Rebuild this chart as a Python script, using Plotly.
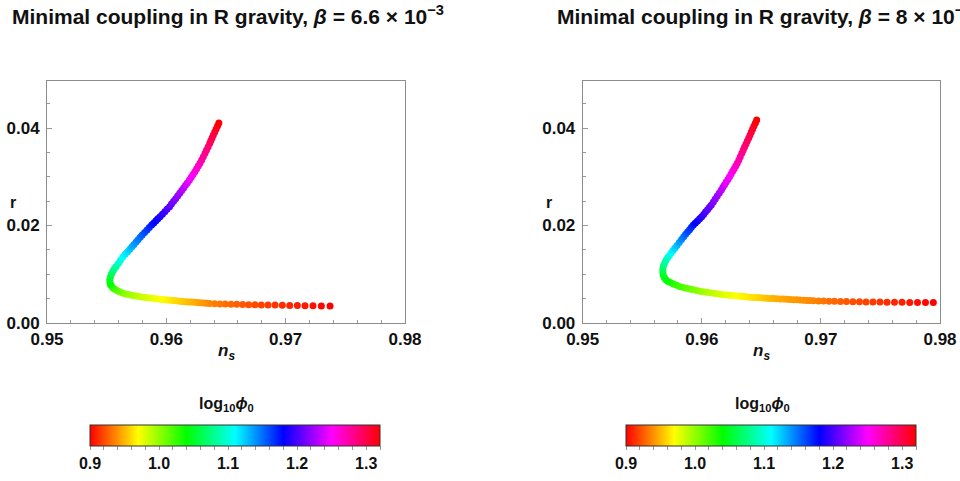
import plotly.graph_objects as go

# ---------------- data ----------------
# Left panel: beta = 6.6e-3
L_phi = [0.900, 0.902, 0.904, 0.906, 0.908, 0.910, 0.912, 0.914, 0.916, 0.918,
         0.920, 0.922, 0.924, 0.926, 0.928, 0.930, 0.932, 0.934, 0.936,
         0.938, 0.940, 0.942, 0.944, 0.946, 0.948, 0.950, 0.952, 0.954, 0.956,
         0.958, 0.960, 0.962, 0.965, 0.967, 0.969, 0.971, 0.973, 0.975, 0.977,
         0.979, 0.982, 0.984, 0.987, 0.990, 0.993, 0.996, 0.999, 1.003, 1.008,
         1.013, 1.018, 1.023, 1.028, 1.034, 1.040,
         1.047, 1.055, 1.063, 1.071, 1.078, 1.085, 1.093, 1.101, 1.109, 1.115,
         1.120, 1.126, 1.131, 1.136, 1.141, 1.145, 1.150, 1.154, 1.159, 1.164,
         1.168, 1.173, 1.177, 1.181, 1.184, 1.188, 1.192, 1.196, 1.200, 1.204,
         1.208, 1.212, 1.216, 1.220, 1.224, 1.228, 1.232, 1.236, 1.240, 1.244,
         1.248, 1.252, 1.256, 1.260, 1.264, 1.268, 1.272, 1.276, 1.280, 1.284,
         1.288, 1.292, 1.295, 1.298, 1.301, 1.305, 1.309, 1.314, 1.320]
L_ns = [0.97372, 0.97299, 0.97229, 0.97162, 0.97098, 0.97034, 0.96972, 0.96911, 0.96852, 0.96796,
        0.96743, 0.96690, 0.96640, 0.96590, 0.96542, 0.96494, 0.96450, 0.96405, 0.96363,
        0.96337, 0.96312, 0.96286, 0.96261, 0.96236, 0.96211, 0.96186, 0.96161, 0.96136, 0.96110,
        0.96085, 0.96060, 0.96035, 0.96010, 0.95985, 0.95960, 0.95934, 0.95909, 0.95884, 0.95859,
        0.95834, 0.95809, 0.95784, 0.95758, 0.95733, 0.95708, 0.95683, 0.95658, 0.95633, 0.95608,
        0.95587, 0.95570, 0.95553, 0.95541, 0.95532, 0.95528,
        0.95526, 0.95532, 0.95541, 0.95553, 0.95566, 0.95580, 0.95598, 0.95616, 0.95635, 0.95655,
        0.95675, 0.95694, 0.95712, 0.95729, 0.95747, 0.95763, 0.95781, 0.95798, 0.95818, 0.95838,
        0.95857, 0.95877, 0.95895, 0.95913, 0.95929, 0.95947, 0.95967, 0.95987, 0.96006, 0.96027,
        0.96043, 0.96061, 0.96078, 0.96095, 0.96112, 0.96129, 0.96145, 0.96161, 0.96177, 0.96194,
        0.96209, 0.96224, 0.96239, 0.96253, 0.96268, 0.96282, 0.96296, 0.96310, 0.96324, 0.96337,
        0.96351, 0.96364, 0.96374, 0.96384, 0.96394, 0.96406, 0.96417, 0.96429, 0.96440]
L_r = [0.00349, 0.00351, 0.00353, 0.00355, 0.00359, 0.00361, 0.00363, 0.00367, 0.00369, 0.00371,
       0.00373, 0.00375, 0.00380, 0.00384, 0.00386, 0.00390, 0.00392, 0.00396, 0.00400,
       0.00407, 0.00412, 0.00416, 0.00420, 0.00424, 0.00429, 0.00433, 0.00437, 0.00442, 0.00448,
       0.00454, 0.00460, 0.00465, 0.00471, 0.00477, 0.00483, 0.00490, 0.00499, 0.00507, 0.00515,
       0.00523, 0.00529, 0.00537, 0.00548, 0.00558, 0.00568, 0.00583, 0.00597, 0.00613, 0.00642,
       0.00669, 0.00693, 0.00718, 0.00759, 0.00786, 0.00821,
       0.00882, 0.00948, 0.01009, 0.01067, 0.01116, 0.01161, 0.01223, 0.01288, 0.01354, 0.01411,
       0.01463, 0.01514, 0.01565, 0.01612, 0.01662, 0.01709, 0.01758, 0.01805, 0.01856, 0.01908,
       0.01959, 0.02010, 0.02053, 0.02096, 0.02138, 0.02181, 0.02232, 0.02283, 0.02334, 0.02386,
       0.02441, 0.02496, 0.02550, 0.02605, 0.02661, 0.02716, 0.02769, 0.02825, 0.02878, 0.02933,
       0.02991, 0.03048, 0.03104, 0.03161, 0.03219, 0.03276, 0.03344, 0.03411, 0.03481, 0.03549,
       0.03616, 0.03686, 0.03744, 0.03799, 0.03856, 0.03918, 0.03980, 0.04041, 0.04103]

# Right panel: beta = 8e-3
R_phi = [0.900, 0.902, 0.904, 0.906, 0.908, 0.910, 0.912, 0.914, 0.916, 0.918,
         0.920, 0.922, 0.924, 0.926, 0.928, 0.930, 0.932, 0.934, 0.936,
         0.937, 0.938, 0.939, 0.940, 0.941, 0.942, 0.943, 0.944, 0.945, 0.946,
         0.947, 0.948, 0.950, 0.952, 0.954, 0.956, 0.958, 0.960, 0.962, 0.964,
         0.966, 0.967, 0.969, 0.971, 0.974, 0.976, 0.978, 0.981, 0.983, 0.985,
         0.988, 0.990, 0.994, 0.998, 1.001, 1.005, 1.009, 1.012, 1.016, 1.020,
         1.024, 1.028, 1.032, 1.036, 1.040, 1.044, 1.048,
         1.054, 1.062, 1.072, 1.080, 1.087, 1.094, 1.101, 1.108, 1.115, 1.121,
         1.128, 1.135, 1.142, 1.148, 1.154, 1.159, 1.164, 1.169, 1.174, 1.179,
         1.183, 1.187, 1.191, 1.195, 1.199, 1.203, 1.207, 1.211, 1.215, 1.219,
         1.223, 1.227, 1.231, 1.235, 1.239, 1.242, 1.245, 1.248, 1.251, 1.255,
         1.259, 1.263, 1.267, 1.271, 1.275, 1.279, 1.283, 1.287, 1.290, 1.293,
         1.296, 1.299, 1.303, 1.307, 1.311, 1.315, 1.320]
R_ns = [0.97944, 0.97878, 0.97811, 0.97746, 0.97681, 0.97618, 0.97555, 0.97496, 0.97437, 0.97379,
        0.97324, 0.97269, 0.97215, 0.97164, 0.97114, 0.97068, 0.97022, 0.96980, 0.96938,
        0.96908, 0.96881, 0.96853, 0.96825, 0.96797, 0.96769, 0.96741, 0.96713, 0.96685, 0.96657,
        0.96629, 0.96601, 0.96573, 0.96545, 0.96517, 0.96489, 0.96461, 0.96433, 0.96405, 0.96377,
        0.96349, 0.96321, 0.96293, 0.96265, 0.96237, 0.96209, 0.96181, 0.96153, 0.96125, 0.96097,
        0.96069, 0.96041, 0.96013, 0.95985, 0.95957, 0.95929, 0.95901, 0.95873, 0.95846, 0.95817,
        0.95789, 0.95762, 0.95737, 0.95716, 0.95699, 0.95685, 0.95676,
        0.95673, 0.95673, 0.95678, 0.95688, 0.95699, 0.95713, 0.95728, 0.95743, 0.95758, 0.95773,
        0.95792, 0.95811, 0.95830, 0.95848, 0.95864, 0.95880, 0.95897, 0.95913, 0.95929, 0.95946,
        0.95964, 0.95982, 0.95999, 0.96015, 0.96031, 0.96048, 0.96064, 0.96080, 0.96097, 0.96113,
        0.96130, 0.96147, 0.96164, 0.96177, 0.96191, 0.96205, 0.96219, 0.96233, 0.96246, 0.96259,
        0.96272, 0.96285, 0.96298, 0.96311, 0.96323, 0.96336, 0.96348, 0.96359, 0.96371, 0.96382,
        0.96394, 0.96405, 0.96416, 0.96427, 0.96438, 0.96450, 0.96461]
R_r = [0.00419, 0.00420, 0.00422, 0.00423, 0.00425, 0.00427, 0.00428, 0.00429, 0.00431, 0.00433,
       0.00436, 0.00438, 0.00441, 0.00443, 0.00445, 0.00447, 0.00449, 0.00451, 0.00455,
       0.00460, 0.00464, 0.00468, 0.00472, 0.00475, 0.00479, 0.00483, 0.00486, 0.00490, 0.00493,
       0.00497, 0.00501, 0.00505, 0.00509, 0.00513, 0.00517, 0.00521, 0.00525, 0.00529, 0.00536,
       0.00542, 0.00549, 0.00556, 0.00562, 0.00569, 0.00575, 0.00582, 0.00592, 0.00602, 0.00612,
       0.00622, 0.00632, 0.00642, 0.00652, 0.00667, 0.00682, 0.00697, 0.00712, 0.00727, 0.00743,
       0.00772, 0.00802, 0.00829, 0.00851, 0.00886, 0.00931, 0.00985,
       0.01046, 0.01110, 0.01171, 0.01231, 0.01286, 0.01337, 0.01387, 0.01436, 0.01485, 0.01532,
       0.01592, 0.01651, 0.01711, 0.01770, 0.01818, 0.01867, 0.01914, 0.01963, 0.02010, 0.02053,
       0.02094, 0.02138, 0.02181, 0.02228, 0.02277, 0.02324, 0.02373, 0.02421, 0.02482, 0.02544,
       0.02605, 0.02667, 0.02728, 0.02784, 0.02837, 0.02892, 0.02946, 0.03001, 0.03056, 0.03112,
       0.03165, 0.03221, 0.03276, 0.03344, 0.03411, 0.03481, 0.03549, 0.03610, 0.03672, 0.03733,
       0.03795, 0.03856, 0.03918, 0.03980, 0.04041, 0.04103, 0.04164]

for name, a, b, c in [("L", L_phi, L_ns, L_r), ("R", R_phi, R_ns, R_r)]:
    if not (len(a) == len(b) == len(c)):
        raise SystemExit(f"{name}: lengths {len(a)} {len(b)} {len(c)}")

TITLES = ["Minimal coupling in R gravity, <i>β</i> = 6.6 × 10<sup>−3</sup>",
          "Minimal coupling in R gravity, <i>β</i> = 8 × 10<sup>−3</sup>"]
CB_MIN, CB_MAX = 0.9, 1.32
CB_TICKS = [0.90, 0.92, 0.94, 0.96, 0.98, 1.00, 1.02, 1.04, 1.06, 1.08, 1.10,
            1.12, 1.14, 1.16, 1.18, 1.20, 1.22, 1.24, 1.26, 1.28, 1.30, 1.32]
CB_LABELS = {0.90: "0.9", 1.00: "1.0", 1.10: "1.1", 1.20: "1.2", 1.30: "1.3"}
X_TICKS = [0.95, 0.96, 0.97, 0.98]
Y_TICKS = [0.00, 0.02, 0.04]

# ---------------- styling ----------------
W, H = 960, 481
FONT = "Liberation Sans, Arial, sans-serif"
HUE = [[0.0, "#ff0000"], [1/6, "#ffff00"], [1/3, "#00ff00"], [0.5, "#00ffff"],
       [2/3, "#0000ff"], [5/6, "#ff00ff"], [1.0, "#ff0000"]]

def px_x(p):
    return p / W

def px_y(p):
    return (H - p) / H

panels = [
    dict(x0=47, x1=405, cbx=235, cbt=226, tx=10),
    dict(x0=582.7, x1=940, cbx=771, cbt=762, tx=555),
]
y_top, y_bot = 80.5, 323

fig = go.Figure()
data = [(L_ns, L_r, L_phi), (R_ns, R_r, R_phi)]
ann = []
for i, (p, (ns, r, phi)) in enumerate(zip(panels, data)):
    suf = "" if i == 0 else str(i + 1)
    fig.add_trace(go.Scatter(
        x=ns, y=r, mode="markers",
        marker=dict(size=7, color=phi, coloraxis="coloraxis" + suf, line=dict(width=0)),
        xaxis="x" + suf, yaxis="y" + suf, showlegend=False, hoverinfo="skip"))
    axcommon = dict(showline=True, mirror=True, linecolor="#8c8c8c", linewidth=1,
                    ticks="inside", tickcolor="#9a9a9a", ticklen=5, tickwidth=1,
                    showgrid=False, zeroline=False,
                    tickfont=dict(family=FONT, size=17, color="#111", weight="bold"))
    fig.layout["xaxis" + suf] = dict(
        axcommon, domain=[px_x(p["x0"]), px_x(p["x1"])], range=[0.95, 0.98],
        tickvals=X_TICKS, ticktext=[f"{v:.2f}" for v in X_TICKS],
        minor=dict(dtick=0.002, ticks="inside", ticklen=3, tickcolor="#9a9a9a"),
        anchor="y" + suf, ticklabelstandoff=1)
    fig.layout["yaxis" + suf] = dict(
        axcommon, domain=[px_y(y_bot), px_y(y_top)],
        range=[0, (y_bot - y_top) * 0.04 / 195.0],
        tickvals=Y_TICKS, ticktext=[f"{v:.2f}" for v in Y_TICKS],
        minor=dict(dtick=0.005, ticks="inside", ticklen=3, tickcolor="#9a9a9a"),
        anchor="x" + suf, ticklabelstandoff=3)
    fig.layout["coloraxis" + suf] = dict(
        colorscale=HUE, cmin=CB_MIN, cmax=CB_MAX,
        colorbar=dict(orientation="h", x=px_x(p["cbx"]), xanchor="center",
                      y=px_y(425), yanchor="top", yref="paper",
                      len=290, lenmode="pixels", thickness=21, thicknessmode="pixels",
                      xpad=0, ypad=0, outlinewidth=1, outlinecolor="#333",
                      tickmode="array", tickvals=CB_TICKS,
                      ticktext=[CB_LABELS.get(round(v, 2), "") for v in CB_TICKS],
                      ticks="outside", ticklen=4, tickcolor="#999",
                      tickfont=dict(family=FONT, size=16, color="#111", weight="bold")))
    ann.append(dict(text="<b>" + TITLES[i] + "</b>", xref="paper", yref="paper",
                    x=px_x(p["tx"]), y=1, xanchor="left", yanchor="top", showarrow=False,
                    font=dict(family=FONT, size=21, color="#111")))
    ann.append(dict(text="<b>r</b>", xref="paper", yref="paper",
                    x=px_x(p["x0"] - 39), y=px_y(202), xanchor="left", yanchor="middle",
                    showarrow=False, font=dict(family=FONT, size=16, color="#111")))
    ann.append(dict(text="<b><i>n</i><sub><i>s</i></sub></b>", xref="paper", yref="paper",
                    x=px_x((p["x0"] + p["x1"]) / 2), y=px_y(352), xanchor="center",
                    yanchor="middle", showarrow=False,
                    font=dict(family=FONT, size=17, color="#111")))
    ann.append(dict(text="<b>log<sub>10</sub><i>ϕ</i><sub>0</sub></b>", xref="paper",
                    yref="paper", x=px_x(p["cbt"]), y=px_y(404), xanchor="center",
                    yanchor="middle", showarrow=False,
                    font=dict(family=FONT, size=16, color="#111")))

fig.update_layout(width=W, height=H, margin=dict(l=0, r=0, t=0, b=0, autoexpand=False),
                  paper_bgcolor="white", plot_bgcolor="white",
                  annotations=ann, font=dict(family=FONT))
fig.write_html("out.html", config={"displayModeBar": False},
               post_script="document.body.style.margin='0px';"
                           "document.body.style.overflow='hidden';")
